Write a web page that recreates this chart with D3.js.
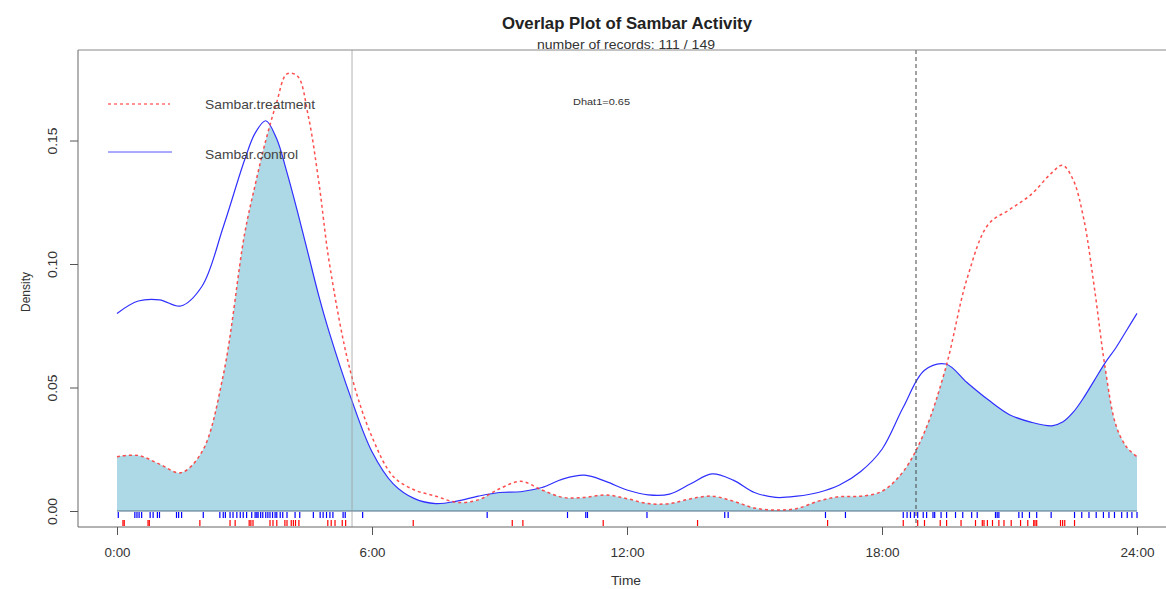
<!DOCTYPE html>
<html>
<head>
<meta charset="utf-8">
<script src="https://cdn.jsdelivr.net/npm/d3@7"></script>
<style>
  html, body { margin: 0; padding: 0; background: #fff; }
  svg { display: block; font-family: "Liberation Sans", Arial, Helvetica, sans-serif; }
</style>
</head>
<body>
<svg id="chart" width="1166" height="589"></svg>
<script>
// Kernel density estimates of activity time (hours of day)
const hours = [0, 0.5, 1, 1.5, 2, 2.5, 3, 3.25, 3.5, 3.75, 4, 4.25, 4.5, 4.75, 5, 5.5,
  6, 6.5, 7, 7.5, 8, 8.5, 9, 9.5, 10, 10.5, 11, 11.5, 12, 12.5, 13, 13.5, 14, 14.5,
  15, 15.5, 16, 16.5, 17, 17.5, 18, 18.5, 19, 19.5, 20, 20.5, 21, 21.5, 22, 22.25,
  22.5, 22.75, 23, 23.25, 23.5, 23.75, 24];

const treatment = [0.022, 0.0225, 0.019, 0.0155, 0.024, 0.055, 0.112, 0.132, 0.150, 0.165,
  0.177, 0.176, 0.160, 0.133, 0.100, 0.056, 0.030, 0.014, 0.0085, 0.006, 0.0035, 0.0045,
  0.009, 0.012, 0.0085, 0.0055, 0.0055, 0.0065, 0.005, 0.003, 0.003, 0.005, 0.006, 0.004,
  0.0012, 0.0004, 0.001, 0.004, 0.0058, 0.006, 0.008, 0.016, 0.032, 0.058, 0.094, 0.116,
  0.122, 0.128, 0.137, 0.140, 0.134, 0.118, 0.090, 0.058, 0.035, 0.026, 0.022];

const control = [0.080, 0.085, 0.0855, 0.083, 0.091, 0.115, 0.142, 0.153, 0.158, 0.151,
  0.137, 0.121, 0.104, 0.087, 0.072, 0.046, 0.024, 0.011, 0.005, 0.003, 0.004, 0.006,
  0.0075, 0.0078, 0.0095, 0.013, 0.0145, 0.012, 0.0085, 0.0065, 0.0068, 0.011, 0.015, 0.0125,
  0.0075, 0.0055, 0.006, 0.0075, 0.0105, 0.016, 0.025, 0.042, 0.057, 0.0595, 0.052, 0.045,
  0.039, 0.036, 0.0345, 0.036, 0.040, 0.046, 0.053, 0.060, 0.066, 0.073, 0.080];

// Individual record times (rug)
const controlRecords = [0.03, 0.42, 0.47, 0.52, 0.58, 0.78, 0.85, 0.95, 1.0, 1.4, 1.45, 1.52,
  2.03, 2.42, 2.5, 2.55, 2.66, 2.73, 2.82, 2.9, 2.97, 3.05, 3.17, 3.25, 3.29, 3.32, 3.38,
  3.43, 3.5, 3.55, 3.6, 3.66, 3.72, 3.76, 3.84, 3.9, 4.0, 4.19, 4.3, 4.62, 4.78, 4.85, 4.93,
  5.01, 5.08, 5.32, 5.37, 5.78, 8.71, 10.6, 11.03, 11.07, 12.47, 14.3, 14.38, 16.67, 17.14,
  18.5, 18.59, 18.67, 18.76, 18.84, 18.97, 19.05, 19.2, 19.24, 19.39, 19.52, 19.73, 19.9,
  20.11, 20.24, 20.67, 20.71, 20.75, 21.22, 21.3, 21.47, 21.64, 21.98, 22.53, 22.7, 22.87,
  23.04, 23.21, 23.34, 23.47, 23.64, 23.77, 23.88, 24.0];

const treatmentRecords = [0.14, 0.17, 0.73, 0.76, 1.95, 2.66, 2.78, 3.11, 3.15, 3.2, 3.6,
  3.67, 3.76, 3.95, 4.0, 4.1, 4.15, 4.2, 4.28, 4.96, 5.04, 5.13, 5.3, 5.38, 6.97, 9.3, 9.55,
  11.44, 13.66, 16.72, 18.5, 18.84, 19.0, 19.37, 19.52, 19.86, 20.2, 20.36, 20.4, 20.48, 20.6,
  20.75, 20.87, 21.04, 21.26, 21.43, 21.57, 21.6, 21.64, 22.2, 22.25, 22.3, 22.53];

const sunrise = 5.53;
const sunset = 18.8;

const xTicks = [0, 6, 12, 18, 24];
const xTickLabels = ["0:00", "6:00", "12:00", "18:00", "24:00"];
const yTicks = [0, 0.05, 0.10, 0.15];
const yTickLabels = ["0.00", "0.05", "0.10", "0.15"];

const titleText = "Overlap Plot of Sambar Activity";
const subtitleText = "number of records: 111 / 149";
const legendLabels = ["Sambar.treatment", "Sambar.control"];
const dhatText = "Dhat1=0.65";

const svg = d3.select("#chart");
const box = { left: 78, right: 1166, top: 50, bottom: 527 };

const x = d3.scaleLinear().domain([0, 24]).range([117, 1137]);
const y = d3.scaleLinear().domain([0, 0.18]).range([511, 511 - 0.18 * 2470]);

const pts = (vals) => hours.map((h, i) => [h, vals[i]]);
const curve = d3.curveCatmullRom.alpha(0.5);

const area = d3.area().x(d => x(d[0])).y0(y(0)).y1(d => y(d[1])).curve(curve);
const line = d3.line().x(d => x(d[0])).y(d => y(d[1])).curve(curve);

// overlap region: area under control clipped by area under treatment
svg.append("clipPath").attr("id", "treatClip")
  .append("path").attr("d", area(pts(treatment)));

svg.append("path")
  .attr("d", area(pts(control)))
  .attr("fill", "#add8e6")
  .attr("clip-path", "url(#treatClip)");

// zero baseline
svg.append("line")
  .attr("x1", x(0)).attr("x2", x(24))
  .attr("y1", y(0)).attr("y2", y(0))
  .attr("stroke", "#4f6f86").attr("stroke-width", 1);

// curves
svg.append("path")
  .attr("d", line(pts(control)))
  .attr("fill", "none").attr("stroke", "#2f2fff").attr("stroke-width", 1.2);

svg.append("path")
  .attr("d", line(pts(treatment)))
  .attr("fill", "none").attr("stroke", "#ff3030").attr("stroke-width", 1.5)
  .attr("stroke-dasharray", "3,3").attr("opacity", 0.85);

// sunrise / sunset markers
svg.append("line")
  .attr("x1", x(sunrise)).attr("x2", x(sunrise))
  .attr("y1", box.top).attr("y2", box.bottom)
  .attr("stroke", "#a0a0a0").attr("stroke-width", 0.8);
svg.append("line")
  .attr("x1", x(sunset)).attr("x2", x(sunset))
  .attr("y1", box.top).attr("y2", box.bottom)
  .attr("stroke", "#444").attr("stroke-width", 1).attr("stroke-dasharray", "4,3");

// rugs
svg.append("g").selectAll("line").data(controlRecords).join("line")
  .attr("x1", d => x(d)).attr("x2", d => x(d))
  .attr("y1", 512).attr("y2", 518)
  .attr("stroke", "#0000ff").attr("stroke-width", 1.2);
svg.append("g").selectAll("line").data(treatmentRecords).join("line")
  .attr("x1", d => x(d)).attr("x2", d => x(d))
  .attr("y1", 520).attr("y2", 526)
  .attr("stroke", "#ff0000").attr("stroke-width", 1.2);

// frame
svg.append("path")
  .attr("d", `M${box.left},${box.top}V${box.bottom}H${box.right}`)
  .attr("fill", "none").attr("stroke", "#666").attr("stroke-width", 1);
svg.append("line")
  .attr("x1", box.left).attr("x2", box.right)
  .attr("y1", box.top).attr("y2", box.top)
  .attr("stroke", "#888").attr("stroke-width", 1);

const fontFam = "Liberation Sans, Arial, sans-serif";

// x axis
const xAxis = d3.axisBottom(x).tickValues(xTicks)
  .tickFormat((d, i) => xTickLabels[i]).tickSize(8).tickSizeOuter(0);
const gx = svg.append("g").attr("transform", `translate(0,${box.bottom})`).call(xAxis);
gx.select(".domain").remove();
gx.selectAll(".tick line").attr("stroke", "#555");
gx.selectAll(".tick text").attr("dy", 0).attr("y", 30)
  .attr("font-size", 12).attr("fill", "#333").attr("font-family", fontFam)
  .attr("textLength", (d, i) => xTickLabels[i].length > 4 ? 34 : 26)
  .attr("lengthAdjust", "spacingAndGlyphs");

// y axis
const yAxis = d3.axisLeft(y).tickValues(yTicks)
  .tickFormat((d, i) => yTickLabels[i]).tickSize(8).tickSizeOuter(0);
const gy = svg.append("g").attr("transform", `translate(${box.left},0)`).call(yAxis);
gy.select(".domain").remove();
gy.selectAll(".tick line").attr("stroke", "#555");
gy.selectAll(".tick text")
  .attr("x", 0).attr("dy", 0).attr("text-anchor", "middle")
  .attr("transform", "translate(-21,0) rotate(-90)")
  .attr("font-size", 12).attr("fill", "#333").attr("font-family", fontFam)
  .attr("textLength", 27).attr("lengthAdjust", "spacingAndGlyphs");

// axis titles
svg.append("text").attr("x", 626).attr("y", 585).attr("text-anchor", "middle")
  .attr("font-size", 12).attr("fill", "#333")
  .attr("textLength", 30).attr("lengthAdjust", "spacingAndGlyphs").text("Time");
svg.append("text").attr("transform", "translate(30,292) rotate(-90)").attr("text-anchor", "middle")
  .attr("font-size", 12).attr("fill", "#333").text("Density");

// titles
svg.append("text").attr("x", 627).attr("y", 29).attr("text-anchor", "middle")
  .attr("font-size", 16.5).attr("font-weight", "bold").attr("fill", "#222")
  .attr("textLength", 250).attr("lengthAdjust", "spacingAndGlyphs").text(titleText);
svg.append("text").attr("x", 626).attr("y", 49).attr("text-anchor", "middle")
  .attr("font-size", 12).attr("fill", "#333")
  .attr("textLength", 178).attr("lengthAdjust", "spacingAndGlyphs").text(subtitleText);

// legend
const legend = svg.append("g");
legend.append("line").attr("x1", 108).attr("x2", 170).attr("y1", 104).attr("y2", 104)
  .attr("stroke", "#ff3030").attr("stroke-width", 1.5).attr("stroke-dasharray", "3,3").attr("opacity", 0.7);
legend.append("text").attr("x", 205).attr("y", 109).attr("font-size", 13).attr("fill", "#444")
  .attr("textLength", 110).attr("lengthAdjust", "spacingAndGlyphs").text(legendLabels[0]);
legend.append("line").attr("x1", 108).attr("x2", 172).attr("y1", 152).attr("y2", 152)
  .attr("stroke", "#5555ff").attr("stroke-width", 1);
legend.append("text").attr("x", 205).attr("y", 159).attr("font-size", 13).attr("fill", "#444")
  .attr("textLength", 93).attr("lengthAdjust", "spacingAndGlyphs").text(legendLabels[1]);

svg.append("text").attr("x", 573).attr("y", 105).attr("font-size", 9).attr("fill", "#333")
  .attr("textLength", 57).attr("lengthAdjust", "spacingAndGlyphs").text(dhatText);
</script>
</body>
</html>
